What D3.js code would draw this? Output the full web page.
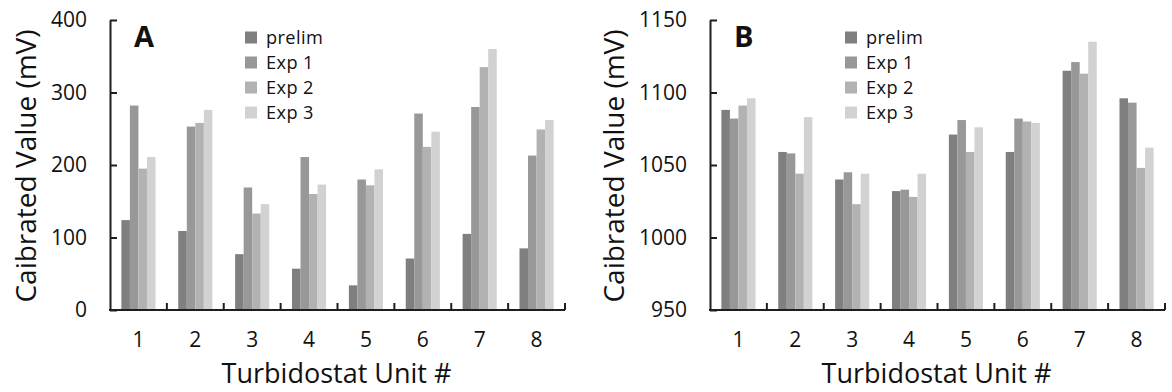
<!DOCTYPE html>
<html>
<head>
<meta charset="utf-8">
<script src="https://cdn.jsdelivr.net/npm/d3@7"></script>
<style>
  html, body { margin: 0; padding: 0; background: #fff; }
  svg { display: block; }
  text { font-family: "Open Sans", "Noto Sans", sans-serif; fill: #111; }
</style>
</head>
<body>
<svg id="chart" width="1172" height="392"></svg>
<script>
// Turbidostat units on the x axis
const units = ["1", "2", "3", "4", "5", "6", "7", "8"];
const seriesNames = ["prelim", "Exp 1", "Exp 2", "Exp 3"];
const seriesColors = ["#7f7f7f", "#989898", "#b2b2b2", "#d2d2d2"];

// Panel A calibrated values (mV)
const prelimA = [124, 109, 77, 57, 34, 71, 105, 85];
const exp1A   = [282, 253, 169, 211, 180, 271, 280, 213];
const exp2A   = [195, 258, 133, 160, 172, 225, 335, 249];
const exp3A   = [211, 276, 146, 173, 194, 246, 360, 262];
const ticksA  = [0, 100, 200, 300, 400];

// Panel B calibrated values (mV)
const prelimB = [1088, 1059, 1040, 1032, 1071, 1059, 1115, 1096];
const exp1B   = [1082, 1058, 1045, 1033, 1081, 1082, 1121, 1093];
const exp2B   = [1091, 1044, 1023, 1028, 1059, 1080, 1113, 1048];
const exp3B   = [1096, 1083, 1044, 1044, 1076, 1079, 1135, 1062];
const ticksB  = [950, 1000, 1050, 1100, 1150];

const svg = d3.select("#chart");
const axisColor = "#1e1e1e";
const axisWidth = 2;

function drawPanel(opts) {
  const { left, label, series, ticks, titleX } = opts;
  const top = 20, bottom = 310, width = 455;
  const g = svg.append("g");

  const x = d3.scaleBand().domain(units).range([left, left + width])
    .paddingInner(0.4).paddingOuter(0.2);
  const xs = d3.scaleBand().domain(seriesNames).range([0, x.bandwidth()]);
  const y = d3.scaleLinear().domain([ticks[0], ticks[ticks.length - 1]]).range([bottom, top]);

  // bars
  const rows = units.map((u, i) => seriesNames.map((s, j) => ({ u, s, j, v: series[j][i] })));
  g.append("g").selectAll("g").data(rows).join("g")
    .attr("transform", d => `translate(${x(d[0].u)},0)`)
    .selectAll("rect").data(d => d).join("rect")
    .attr("x", d => xs(d.s))
    .attr("width", xs.bandwidth())
    .attr("y", d => y(d.v))
    .attr("height", d => y(ticks[0]) - y(d.v))
    .attr("fill", d => seriesColors[d.j]);

  // y axis, ticks pointing inward
  const yAxis = g.append("g").attr("transform", `translate(${left},0)`)
    .call(d3.axisLeft(y).tickValues(ticks).tickFormat(d3.format("d"))
      .tickSizeInner(-7).tickSizeOuter(0).tickPadding(23));
  yAxis.selectAll("path, line").attr("stroke", axisColor).attr("stroke-width", axisWidth);
  yAxis.selectAll("text").attr("font-size", 21).attr("fill", "#111")
    .attr("font-family", "'Open Sans', sans-serif");

  // x axis with category labels at band centres
  const xAxis = g.append("g").attr("transform", `translate(0,${bottom})`)
    .call(d3.axisBottom(x).tickSize(0).tickPadding(22.5));
  xAxis.select(".domain").attr("stroke", axisColor).attr("stroke-width", axisWidth)
    .attr("d", `M${left - 1},0H${left + width}`);
  xAxis.selectAll("text").attr("font-size", 21).attr("fill", "#111")
    .attr("font-family", "'Open Sans', sans-serif");

  // separator ticks between units, pointing up
  const step = x.step();
  g.append("g").selectAll("line").data(units).join("line")
    .attr("x1", d => x(d) + x.bandwidth() + (step - x.bandwidth()) / 2)
    .attr("x2", d => x(d) + x.bandwidth() + (step - x.bandwidth()) / 2)
    .attr("y1", bottom).attr("y2", bottom - 7)
    .attr("stroke", axisColor).attr("stroke-width", axisWidth);

  // axis titles
  g.append("text")
    .attr("x", left + width / 2 - 1).attr("y", 383)
    .attr("text-anchor", "middle").attr("font-size", 27)
    .text("Turbidostat Unit #");
  g.append("text")
    .attr("transform", `translate(${titleX},${(top + bottom) / 2 + 1}) rotate(-90)`)
    .attr("text-anchor", "middle").attr("dy", "0.35em").attr("font-size", 28)
    .text("Caibrated Value (mV)");

  // panel letter
  g.append("text")
    .attr("x", left + 24).attr("y", 47)
    .attr("font-size", 29).attr("font-weight", "bold")
    .text(label);

  // legend
  const lg = g.append("g").attr("transform", `translate(${left + 135},0)`);
  const items = lg.selectAll("g").data(seriesNames).join("g")
    .attr("transform", (d, i) => `translate(0,${37.5 + i * 25})`);
  items.append("rect").attr("x", 0).attr("y", -6).attr("width", 12).attr("height", 12)
    .attr("fill", (d, i) => seriesColors[i]);
  items.append("text").attr("x", 21).attr("dy", "0.36em")
    .attr("font-size", 18.2).attr("letter-spacing", 0.4)
    .text(d => d);
}

drawPanel({ left: 110, label: "A", series: [prelimA, exp1A, exp2A, exp3A], ticks: ticksA, titleX: 26 });
drawPanel({ left: 710, label: "B", series: [prelimB, exp1B, exp2B, exp3B], ticks: ticksB, titleX: 614 });
</script>
</body>
</html>
